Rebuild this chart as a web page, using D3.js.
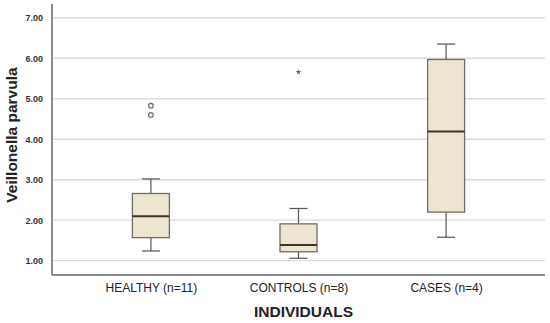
<!DOCTYPE html>
<html>
<head>
<meta charset="utf-8">
<script src="https://cdn.jsdelivr.net/npm/d3@7"></script>
<style>
  body { margin: 0; background: #fff; }
  text { font-family: "Liberation Sans", Arial, sans-serif; }
</style>
</head>
<body>
<svg id="chart" width="550" height="323"></svg>
<script>
// values
const categories = ["HEALTHY (n=11)", "CONTROLS (n=8)", "CASES (n=4)"];
const whiskerLow = [1.24, 1.06, 1.58];
const q1 = [1.57, 1.22, 2.20];
const median = [2.10, 1.39, 4.19];
const q3 = [2.66, 1.91, 5.97];
const whiskerHigh = [3.02, 2.29, 6.35];
// outliers: circles = mild, star = extreme
const outliers = [
  {cat: 0, value: 4.83, kind: "circle"},
  {cat: 0, value: 4.60, kind: "circle"},
  {cat: 1, value: 5.66, kind: "star"}
];
const yTicks = [1, 2, 3, 4, 5, 6, 7];

const svg = d3.select("#chart");
const plotLeft = 52, plotRight = 545, plotTop = 4, plotBottom = 275;

const x = d3.scalePoint()
  .domain(categories)
  .range([plotLeft, plotRight])
  .padding(0.67);

const y = d3.scaleLinear()
  .domain([0.647, 7.34])
  .range([plotBottom, plotTop]);

// gridlines
svg.append("g")
  .selectAll("line")
  .data(yTicks)
  .join("line")
  .attr("x1", plotLeft).attr("x2", plotRight)
  .attr("y1", d => y(d)).attr("y2", d => y(d))
  .attr("stroke", "#dcdcdc")
  .attr("stroke-width", 1.3);

// y axis
const yAxis = svg.append("g")
  .attr("transform", `translate(${plotLeft},0)`)
  .call(d3.axisLeft(y).tickValues(yTicks).tickFormat(d3.format(".2f")).tickSize(0).tickPadding(9));
yAxis.select(".domain").remove();
yAxis.selectAll("text")
  .attr("font-size", 9)
  .attr("font-weight", "bold")
  .attr("fill", "#333");

// x axis
const xAxis = svg.append("g")
  .attr("transform", `translate(0,${plotBottom})`)
  .call(d3.axisBottom(x).tickSize(0).tickPadding(8));
xAxis.select(".domain").remove();
xAxis.selectAll("text")
  .attr("font-size", 12)
  .attr("fill", "#222");

// axis lines
svg.append("line")
  .attr("x1", plotLeft).attr("x2", plotLeft)
  .attr("y1", plotTop).attr("y2", plotBottom)
  .attr("stroke", "#8a8a8a").attr("stroke-width", 2);
svg.append("line")
  .attr("x1", plotLeft).attr("x2", plotRight)
  .attr("y1", plotBottom).attr("y2", plotBottom)
  .attr("stroke", "#8a8a8a").attr("stroke-width", 2);

// boxes
const boxW = 37, capW = 18;
const boxes = svg.append("g")
  .selectAll("g")
  .data(categories)
  .join("g")
  .attr("transform", d => `translate(${x(d)},0)`);

boxes.append("line")
  .attr("y1", (d, i) => y(whiskerHigh[i]))
  .attr("y2", (d, i) => y(q3[i]))
  .attr("stroke", "#555").attr("stroke-width", 1.2);
boxes.append("line")
  .attr("y1", (d, i) => y(q1[i]))
  .attr("y2", (d, i) => y(whiskerLow[i]))
  .attr("stroke", "#555").attr("stroke-width", 1.2);
boxes.append("line")
  .attr("x1", -capW / 2).attr("x2", capW / 2)
  .attr("y1", (d, i) => y(whiskerHigh[i]))
  .attr("y2", (d, i) => y(whiskerHigh[i]))
  .attr("stroke", "#555").attr("stroke-width", 1.2);
boxes.append("line")
  .attr("x1", -capW / 2).attr("x2", capW / 2)
  .attr("y1", (d, i) => y(whiskerLow[i]))
  .attr("y2", (d, i) => y(whiskerLow[i]))
  .attr("stroke", "#555").attr("stroke-width", 1.2);

boxes.append("rect")
  .attr("x", -boxW / 2)
  .attr("width", boxW)
  .attr("y", (d, i) => y(q3[i]))
  .attr("height", (d, i) => y(q1[i]) - y(q3[i]))
  .attr("fill", "#ede5cf")
  .attr("stroke", "#6e6e66")
  .attr("stroke-width", 1.3);

boxes.append("line")
  .attr("x1", -boxW / 2).attr("x2", boxW / 2)
  .attr("y1", (d, i) => y(median[i]))
  .attr("y2", (d, i) => y(median[i]))
  .attr("stroke", "#3a342a").attr("stroke-width", 2);

// outliers
svg.append("g")
  .selectAll("circle")
  .data(outliers.filter(d => d.kind === "circle"))
  .join("circle")
  .attr("cx", d => x(categories[d.cat]))
  .attr("cy", d => y(d.value))
  .attr("r", 2.3)
  .attr("fill", "none")
  .attr("stroke", "#666")
  .attr("stroke-width", 1.1);

svg.append("g")
  .selectAll("path")
  .data(outliers.filter(d => d.kind === "star"))
  .join("path")
  .attr("d", d3.symbol(d3.symbolStar, 10))
  .attr("transform", d => `translate(${x(categories[d.cat])},${y(d.value)})`)
  .attr("fill", "#666");

// titles
svg.append("text")
  .attr("x", (plotLeft + plotRight) / 2 + 5)
  .attr("y", 317)
  .attr("text-anchor", "middle")
  .attr("font-size", 15.5)
  .attr("font-weight", "bold")
  .attr("fill", "#222")
  .text("INDIVIDUALS");

svg.append("text")
  .attr("transform", "translate(17,135) rotate(-90)")
  .attr("text-anchor", "middle")
  .attr("font-size", 15.5)
  .attr("font-weight", "bold")
  .attr("fill", "#222")
  .text("Veillonella parvula");
</script>
</body>
</html>
